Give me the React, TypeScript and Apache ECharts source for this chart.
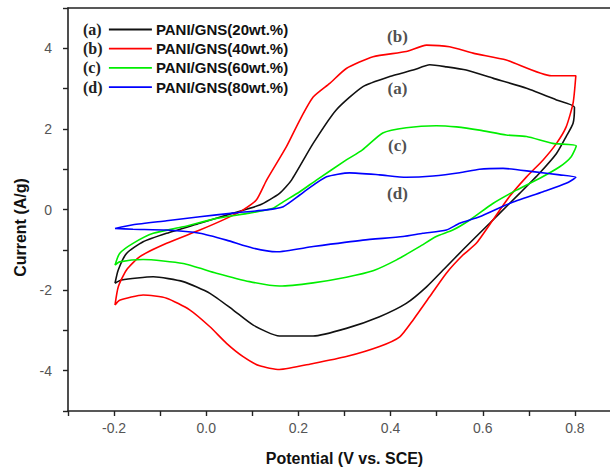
import React, { useEffect, useRef } from "react";
import * as echarts from "echarts";

// ---- Data ----
const seriesNames = [
  "PANI/GNS(20wt.%)",
  "PANI/GNS(40wt.%)",
  "PANI/GNS(60wt.%)",
  "PANI/GNS(80wt.%)",
];
const seriesTags = ["(a)", "(b)", "(c)", "(d)"];
const seriesColors = ["#111111", "#ff0000", "#00ee00", "#0000ff"];

// (a) 20 wt.% — potential (V) and current (A/g), anodic then cathodic scan
const aX = [-0.198, -0.191, -0.173, -0.137, -0.086, -0.014, 0.058, 0.116, 0.159, 0.185, 0.232, 0.282, 0.34, 0.398, 0.449, 0.485, 0.521, 0.564, 0.622, 0.695, 0.76, 0.799,
  0.796, 0.781, 0.76, 0.723, 0.68, 0.637, 0.593, 0.557, 0.521, 0.478, 0.434, 0.376, 0.304, 0.232, 0.159, 0.102, 0.058, 0.008, -0.05, -0.115, -0.184, -0.198];
const aY = [-1.83, -1.5, -1.09, -0.8, -0.59, -0.34, -0.09, 0.11, 0.4, 0.73, 1.64, 2.47, 3.05, 3.3, 3.46, 3.59, 3.54, 3.46, 3.26, 3.01, 2.72, 2.54,
  2.14, 1.81, 1.39, 0.9, 0.4, -0.09, -0.59, -1.0, -1.42, -1.92, -2.33, -2.66, -2.95, -3.14, -3.14, -2.87, -2.49, -2.08, -1.79, -1.67, -1.75, -1.83];

// (b) 40 wt.%
const bX = [-0.198, -0.191, -0.173, -0.144, -0.086, -0.014, 0.044, 0.08, 0.109, 0.131, 0.174, 0.203, 0.232, 0.268, 0.304, 0.362, 0.434, 0.478, 0.528, 0.579, 0.651, 0.749, 0.802,
  0.796, 0.781, 0.76, 0.731, 0.695, 0.658, 0.622, 0.586, 0.557, 0.521, 0.485, 0.449, 0.42, 0.376, 0.304, 0.232, 0.159, 0.116, 0.08, 0.044, 0.008, -0.036, -0.086, -0.137, -0.188, -0.198];
const bY = [-2.37, -1.92, -1.5, -1.17, -0.84, -0.51, -0.22, -0.01, 0.24, 0.73, 1.56, 2.22, 2.79, 3.13, 3.5, 3.79, 3.92, 4.08, 4.04, 3.88, 3.71, 3.32, 3.32,
  2.64, 2.05, 1.64, 1.23, 0.81, 0.32, -0.26, -0.84, -1.13, -1.58, -2.16, -2.74, -3.16, -3.4, -3.65, -3.82, -3.97, -3.88, -3.65, -3.32, -2.91, -2.49, -2.2, -2.12, -2.25, -2.37];

// (c) 60 wt.%
const cX = [-0.198, -0.188, -0.159, -0.115, -0.05, 0.022, 0.094, 0.145, 0.167, 0.203, 0.239, 0.304, 0.339, 0.383, 0.434, 0.499, 0.543, 0.593, 0.651, 0.695, 0.752, 0.803,
  0.792, 0.767, 0.723, 0.673, 0.622, 0.572, 0.535, 0.499, 0.463, 0.413, 0.362, 0.304, 0.232, 0.159, 0.094, 0.022, -0.05, -0.137, -0.188, -0.198];
const cY = [-1.38, -1.09, -0.84, -0.59, -0.43, -0.22, -0.09, 0.03, 0.19, 0.44, 0.73, 1.23, 1.48, 1.9, 2.03, 2.08, 2.05, 1.97, 1.85, 1.81, 1.64, 1.58,
  1.31, 1.06, 0.77, 0.48, 0.15, -0.26, -0.51, -0.67, -0.92, -1.25, -1.52, -1.68, -1.82, -1.9, -1.79, -1.58, -1.34, -1.24, -1.3, -1.38];

// (d) 80 wt.%
const dX = [-0.198, -0.159, -0.086, -0.014, 0.058, 0.131, 0.167, 0.203, 0.217, 0.261, 0.311, 0.376, 0.434, 0.492, 0.55, 0.593, 0.644, 0.709, 0.767, 0.802,
  0.781, 0.731, 0.658, 0.593, 0.55, 0.521, 0.47, 0.427, 0.34, 0.232, 0.152, 0.102, 0.044, -0.014, -0.086, -0.159, -0.198];
const dY = [-0.47, -0.38, -0.28, -0.18, -0.09, -0.01, 0.07, 0.36, 0.48, 0.81, 0.91, 0.86, 0.8, 0.83, 0.91, 1.0, 1.02, 0.94, 0.86, 0.8,
  0.65, 0.44, 0.15, -0.18, -0.34, -0.51, -0.59, -0.67, -0.76, -0.92, -1.05, -0.96, -0.76, -0.59, -0.51, -0.49, -0.47];

// Curve labels placed inside the plot (data coordinates)
const curveLabelX = [0.415, 0.415, 0.415, 0.415];
const curveLabelY = [3.0, 4.3, 1.58, 0.4];
const curveLabelOrder = ["(a)", "(b)", "(c)", "(d)"];

const xTicks = { min: -0.3, max: 0.9, step: 0.1 };
const yTicks = { min: -5, max: 5, step: 1 };

const allX = [aX, bX, cX, dX];
const allY = [aY, bY, cY, dY];

export default function App() {
  const ref = useRef<HTMLDivElement>(null);

  useEffect(() => {
    if (!ref.current) return;
    const chart = echarts.init(ref.current, undefined, { renderer: "svg" });

    const series: any[] = allX.map((xs, i) => ({
      name: seriesNames[i],
      type: "line",
      data: xs.map((x, j) => [x, allY[i][j]]),
      symbol: "none",
      showSymbol: false,
      smooth: 0.2,
      lineStyle: { color: seriesColors[i], width: 1.6 },
      itemStyle: { color: seriesColors[i] },
      z: 3,
    }));

    // in-plot tags as a scatter with labels
    series.push({
      type: "scatter",
      name: "tags",
      data: curveLabelX.map((x, i) => ({ value: [x, curveLabelY[i]], name: curveLabelOrder[i] })),
      symbolSize: 0,
      silent: true,
      label: {
        show: true,
        position: "inside",
        formatter: (p: any) => p.name,
        fontFamily: "Liberation Serif",
        fontWeight: "bold",
        fontSize: 17,
        color: "#222",
      },
      z: 5,
    });

    const rowStep = 19.2;
    const firstRowCenter = 29.5;
    const itemH = 15;

    chart.setOption({
      animation: false,
      backgroundColor: "#ffffff",
      grid: {
        left: 68,
        top: 8,
        width: 553,
        height: 403,
        containLabel: false,
        outerBoundsMode: "none",
      },
      legend: {
        data: seriesNames,
        orient: "vertical",
        left: 108,
        top: firstRowCenter - itemH / 2,
        itemWidth: 43,
        itemHeight: itemH,
        itemGap: rowStep - itemH,
        padding: 0,
        itemStyle: { opacity: 0, borderWidth: 0 },
        lineStyle: { width: 1.8 },
        textStyle: {
          fontFamily: "Liberation Sans",
          fontWeight: "bold",
          fontSize: 15,
          lineHeight: itemH,
          color: "#111",
          padding: [0, 0, 0, -1],
        },
      },
      graphic: seriesTags.map((t, i) => ({
        type: "text",
        x: 83,
        y: firstRowCenter + i * rowStep,
        style: {
          text: t,
          font: "bold 16px 'Liberation Serif'",
          fill: "#222",
          verticalAlign: "middle",
        },
      })),
      xAxis: [
        {
          type: "value",
          position: "bottom",
          min: xTicks.min,
          max: xTicks.max,
          interval: xTicks.step,
          name: "Potential (V vs. SCE)",
          nameLocation: "middle",
          nameGap: 39,
          nameTextStyle: {
            fontFamily: "Liberation Sans",
            fontWeight: "bold",
            fontSize: 16,
            color: "#111",
          },
          axisLine: { show: true, onZero: false, lineStyle: { color: "#222", width: 1.6 } },
          axisTick: { show: true, inside: false, length: 5, lineStyle: { color: "#222", width: 1.4 } },
          splitLine: { show: false },
          axisLabel: {
            margin: 10,
            fontFamily: "Liberation Sans",
            fontSize: 14,
            color: "#555",
            formatter: (v: number) => {
              const k = Math.round(v * 10);
              if (k % 2 !== 0) return "";
              return (k / 10).toFixed(1);
            },
          },
        },
        {
          type: "value",
          position: "top",
          min: xTicks.min,
          max: xTicks.max,
          interval: xTicks.step,
          axisLine: { show: true, onZero: false, lineStyle: { color: "#222", width: 1.6 } },
          axisTick: { show: false },
          axisLabel: { show: false },
          splitLine: { show: false },
        },
      ],
      yAxis: {
        type: "value",
        min: yTicks.min,
        max: yTicks.max,
        interval: yTicks.step,
        name: "Current (A/g)",
        nameLocation: "middle",
        nameGap: 40,
        nameTextStyle: {
          fontFamily: "Liberation Sans",
          fontWeight: "bold",
          fontSize: 16,
          color: "#111",
          padding: [0, 36, 0, 0],
        },
        axisLine: { show: true, onZero: false, lineStyle: { color: "#222", width: 1.6 } },
        axisTick: { show: true, inside: false, length: 5, lineStyle: { color: "#222", width: 1.4 } },
        splitLine: { show: false },
        axisLabel: {
          margin: 16,
          fontFamily: "Liberation Sans",
          fontSize: 14,
          color: "#555",
          formatter: (v: number) => {
            const k = Math.round(v);
            if (k % 2 !== 0) return "";
            return String(k);
          },
        },
      },
      series,
    });

    return () => chart.dispose();
  }, []);

  return (
    <div
      ref={ref}
      style={{ position: "fixed", left: 0, top: 0, width: 610, height: 474, background: "#fff" }}
    />
  );
}
